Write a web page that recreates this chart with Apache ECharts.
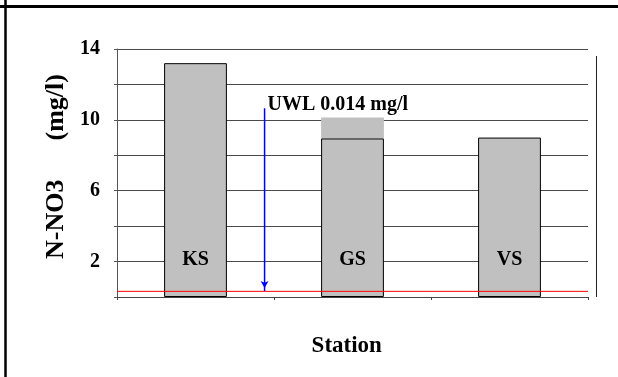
<!DOCTYPE html>
<html>
<head>
<meta charset="utf-8">
<script src="https://cdn.jsdelivr.net/npm/echarts@6/dist/echarts.min.js"></script>
<style>
  html, body { margin: 0; padding: 0; background: #fff; }
  #chart { width: 618px; height: 377px; }
</style>
</head>
<body>
<div id="chart"></div>
<script>
// Nitrate-nitrogen concentration per sampling station
const stations = ['KS', 'GS', 'VS'];
const no3Values = [13.2, 8.95, 9.0];
// extra (unbordered) top segment shown on the GS column
const no3Upper = [null, 1.18, null];
// upper warning level line and its note
const uwlLevel = 0.32;
const uwlText = 'UWL 0.014 mg/l';
// arrow pointing down to the UWL line (x in category-slot units)
const uwlArrowX = [0.94, 0.94];
const uwlArrowY = [10.66, 0.34];
const yLabelsShown = [2, 6, 10, 14];

const serif = '"Liberation Serif", "Times New Roman", serif';
const chart = echarts.init(document.getElementById('chart'), null, { renderer: 'canvas' });

chart.setOption({
  animation: false,
  backgroundColor: '#ffffff',
  grid: { left: 117, right: 30, top: 49, bottom: 80 },
  xAxis: [
    {
      type: 'category',
      data: stations,
      boundaryGap: true,
      name: 'Station  ',
      nameLocation: 'middle',
      nameGap: 38,
      nameTextStyle: { fontFamily: serif, fontWeight: 'bold', fontSize: 23, color: '#000' },
      axisLine: { lineStyle: { color: '#444', width: 1 } },
      axisTick: { show: true, length: 3, lineStyle: { color: '#444' } },
      axisLabel: { show: false }
    },
    { type: 'value', min: 0, max: 3, show: false }
  ],
  yAxis: {
    type: 'value',
    min: 0,
    max: 14,
    interval: 2,
    name: '  N-NO3      (mg/l)',
    nameLocation: 'middle',
    nameGap: 39,
    nameTextStyle: { fontFamily: serif, fontWeight: 'bold', fontSize: 26, color: '#000' },
    axisLine: { show: true, lineStyle: { color: '#555', width: 1 } },
    axisTick: { show: true, length: 3, lineStyle: { color: '#555' } },
    axisLabel: {
      margin: 17,
      fontFamily: serif, fontWeight: 'bold', fontSize: 20, color: '#000',
      formatter: v => (yLabelsShown.indexOf(v) >= 0 ? String(v) : '')
    },
    splitLine: { show: true, lineStyle: { color: '#4a4a4a', width: 1 } }
  },
  graphic: [
    // frame of the surrounding cell
    { type: 'line', shape: { x1: 0, y1: 6.5, x2: 618, y2: 6.5 }, style: { stroke: '#000', lineWidth: 3 }, silent: true },
    { type: 'line', shape: { x1: 5.5, y1: 0, x2: 5.5, y2: 377 }, style: { stroke: '#000', lineWidth: 2.5 }, silent: true },
    // plot-area right border
    { type: 'line', shape: { x1: 596.5, y1: 56, x2: 596.5, y2: 297 }, style: { stroke: '#222', lineWidth: 1 }, silent: true }
  ],
  series: [
    {
      name: 'N-NO3',
      type: 'bar',
      stack: 'no3',
      barWidth: '40%',
      data: no3Values,
      itemStyle: { color: '#c0c0c0', borderColor: '#000', borderWidth: 1 },
      label: {
        show: true,
        position: 'insideBottom',
        distance: 27,
        formatter: '{b}',
        fontFamily: serif, fontWeight: 'bold', fontSize: 20, color: '#000'
      },
      z: 2
    },
    {
      name: 'N-NO3 upper',
      type: 'bar',
      stack: 'no3',
      barWidth: '40%',
      data: no3Upper,
      itemStyle: { color: '#c0c0c0', borderWidth: 0 },
      z: 1
    },
    {
      // horizontal UWL level across the plot
      name: 'UWL',
      type: 'line',
      xAxisIndex: 1,
      data: [[0, uwlLevel], [3, uwlLevel]],
      symbol: 'none',
      lineStyle: { color: '#ff0000', width: 1 },
      itemStyle: { color: '#ff0000' },
      z: 6
    },
    {
      name: 'UWL arrow',
      type: 'line',
      xAxisIndex: 1,
      data: [[uwlArrowX[0], uwlArrowY[0]], [uwlArrowX[1], uwlArrowY[1]]],
      symbol: 'none',
      lineStyle: { color: '#0000ff', width: 1.5 },
      itemStyle: { color: '#0000ff' },
      markPoint: {
        silent: true,
        data: [
          {
            coord: [uwlArrowX[1], uwlArrowY[1]],
            symbol: 'arrow', symbolRotate: 180, symbolSize: [6, 7], symbolOffset: [0, -3],
            itemStyle: { color: '#0000ff' },
            label: { show: false }
          },
          {
            coord: [uwlArrowX[0], uwlArrowY[0]],
            symbol: 'circle', symbolSize: 0,
            label: {
              show: true, position: 'right', distance: 3, offset: [0, -3],
              formatter: uwlText,
              fontFamily: serif, fontWeight: 'bold', fontSize: 20, color: '#000'
            }
          }
        ]
      },
      z: 5
    }
  ]
});
</script>
</body>
</html>
